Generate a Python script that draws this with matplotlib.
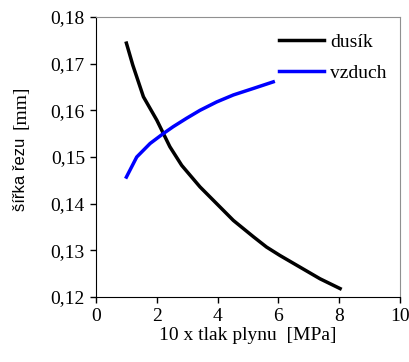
import matplotlib.pyplot as plt
from matplotlib.ticker import FuncFormatter

# data
x_dusik = [1.0, 1.21, 1.56, 2.0, 2.43, 2.82, 3.42, 3.97, 4.52, 5.18, 5.61, 6.05, 6.71, 7.37, 8.03]
y_dusik = [0.1744, 0.1697, 0.1629, 0.1579, 0.1522, 0.1482, 0.1436, 0.1400, 0.1364,
           0.1329, 0.1307, 0.1289, 0.1264, 0.1239, 0.1218]

x_vzduch = [1.0, 1.34, 1.78, 2.21, 2.54, 2.98, 3.42, 3.97, 4.52, 5.18, 5.83]
y_vzduch = [0.1457, 0.1500, 0.1529, 0.1550, 0.1565, 0.1583, 0.1600, 0.1618, 0.1633, 0.1647, 0.1661]

plt.rcParams['font.family'] = ['Liberation Serif', 'DejaVu Serif']
plt.rcParams['font.size'] = 14

W, H = 410, 362
fig = plt.figure(figsize=(W / 100, H / 100), dpi=100)
ax = fig.add_axes([96 / W, 1 - 297 / H, 304 / W, 280 / H])

ax.plot(x_dusik, y_dusik, color='black', lw=2.5, label='dusík')
ax.plot(x_vzduch, y_vzduch, color='#0000ff', lw=2.5, label='vzduch')

ax.set_xlim(0, 10)
ax.set_ylim(0.12, 0.18)
ax.set_xticks([0, 2, 4, 6, 8, 10])
ax.set_yticks([0.12, 0.13, 0.14, 0.15, 0.16, 0.17, 0.18])
ax.yaxis.set_major_formatter(FuncFormatter(lambda v, p: ('%.2f' % v).replace('.', ',')))
ax.tick_params(direction='out', length=4, width=1, pad=4)

for s in ['top', 'right']:
    ax.spines[s].set_color('#909090')
for s in ['left', 'bottom']:
    ax.spines[s].set_color('black')

ax.set_xlabel('10 x tlak plynu  [MPa]', labelpad=1)

# y label: sans part + serif unit
fig.text(21 / W, 1 - 211 / H, 'šířka řezu', family='Liberation Sans', fontsize=12,
         rotation=90, ha='center', va='bottom')
fig.text(21 / W, 1 - 129 / H, '[mm]', fontsize=14, rotation=90, ha='center', va='bottom')

ax.legend(loc='upper right', frameon=False, handlelength=2.3, handletextpad=0.3,
          labelspacing=0.7, borderaxespad=0.3, bbox_to_anchor=(1.0, 0.99))

fig.savefig('out.png', dpi=100)
